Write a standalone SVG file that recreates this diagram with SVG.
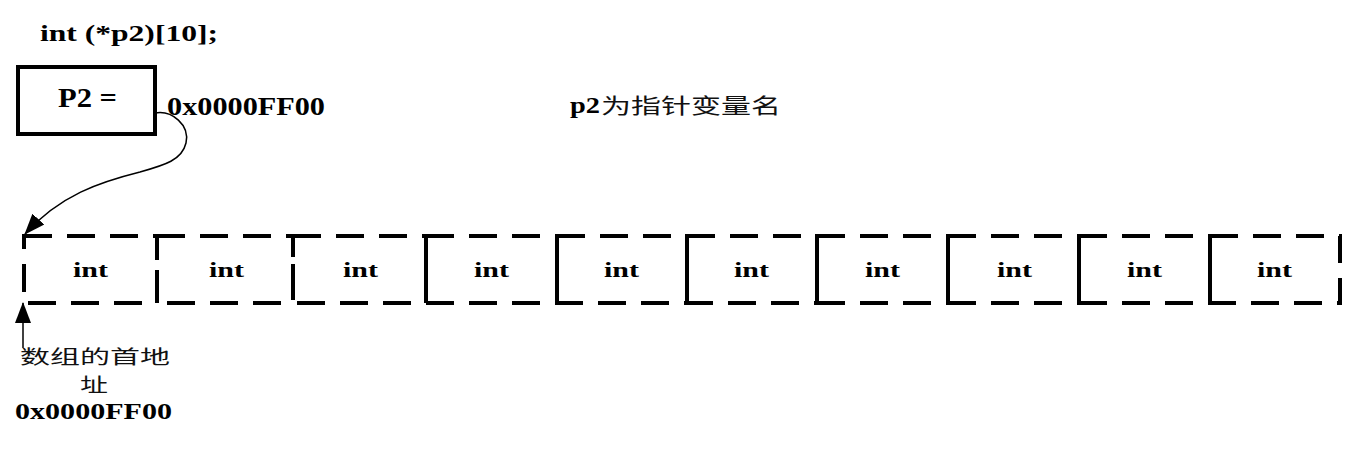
<svg xmlns="http://www.w3.org/2000/svg" width="1356" height="470" viewBox="0 0 1356 470">
<style>
.t{font-family:"Liberation Serif","Times New Roman",serif;font-weight:bold;fill:#000}
.cn{font-family:"Noto Sans CJK SC","Noto Sans",sans-serif;fill:#111}
.cell{fill:none;stroke:#000;stroke-width:4;stroke-dasharray:28 15}
.lbl{font-family:"Liberation Serif",serif;font-weight:bold;font-size:22px}
</style>
<defs>
<marker id="ah" markerWidth="22" markerHeight="18" refX="20" refY="8" orient="auto" markerUnits="userSpaceOnUse" viewBox="0 0 22 16">
<path d="M0,0 L21,8 L0,16 z" fill="#000"/>
</marker>
</defs>
<text class="t" x="40" y="41" font-size="24" textLength="178" lengthAdjust="spacingAndGlyphs">int  (*p2)[10];</text>
<g id="p2box">
<rect x="18" y="67" width="137" height="67" fill="#fff" stroke="#000" stroke-width="4"/>
<text class="t" x="58" y="107" font-size="27" textLength="59" lengthAdjust="spacingAndGlyphs">P2 =</text>
</g>
<text class="t" x="167" y="115" font-size="25" textLength="158" lengthAdjust="spacingAndGlyphs">0x0000FF00</text>
<g id="note">
<text class="t" x="570" y="113" font-size="24" textLength="30" lengthAdjust="spacingAndGlyphs">p2</text>
<text class="cn" x="601" y="113" font-size="21" textLength="180" lengthAdjust="spacingAndGlyphs">为指针变量名</text>
</g>
<g id="array">
<g id="c0"><rect class="cell" x="24" y="236" width="133" height="67"/><text class="lbl" x="73" y="277" textLength="35" lengthAdjust="spacingAndGlyphs">int</text></g>
<g id="c1"><rect class="cell" x="157" y="236" width="136" height="67"/><text class="lbl" x="209" y="277" textLength="35" lengthAdjust="spacingAndGlyphs">int</text></g>
<g id="c2"><rect class="cell" x="293" y="236" width="133" height="67"/><text class="lbl" x="343" y="277" textLength="35" lengthAdjust="spacingAndGlyphs">int</text></g>
<g id="c3"><rect class="cell" x="426" y="236" width="131" height="67"/><text class="lbl" x="474" y="277" textLength="35" lengthAdjust="spacingAndGlyphs">int</text></g>
<g id="c4"><rect class="cell" x="557" y="236" width="130" height="67"/><text class="lbl" x="604" y="277" textLength="35" lengthAdjust="spacingAndGlyphs">int</text></g>
<g id="c5"><rect class="cell" x="687" y="236" width="130" height="67"/><text class="lbl" x="734" y="277" textLength="35" lengthAdjust="spacingAndGlyphs">int</text></g>
<g id="c6"><rect class="cell" x="817" y="236" width="131" height="67"/><text class="lbl" x="865" y="277" textLength="35" lengthAdjust="spacingAndGlyphs">int</text></g>
<g id="c7"><rect class="cell" x="948" y="236" width="131" height="67"/><text class="lbl" x="997" y="277" textLength="35" lengthAdjust="spacingAndGlyphs">int</text></g>
<g id="c8"><rect class="cell" x="1079" y="236" width="131" height="67"/><text class="lbl" x="1127" y="277" textLength="35" lengthAdjust="spacingAndGlyphs">int</text></g>
<g id="c9"><rect class="cell" x="1210" y="236" width="130" height="67"/><text class="lbl" x="1257" y="277" textLength="35" lengthAdjust="spacingAndGlyphs">int</text></g>
</g>
<g id="connectors" fill="none" stroke="#000" stroke-width="1.5">
<path d="M155,113 C172,110 190,125 186,143 C182,160 165,165 140,172 C100,182 60,195 25,234" marker-end="url(#ah)"/>
<path d="M23,348 L23,303" marker-end="url(#ah)"/>
</g>
<g id="addr">
<text class="cn" x="20" y="364" font-size="19" textLength="150" lengthAdjust="spacingAndGlyphs">数组的首地</text>
<text class="cn" x="80" y="392" font-size="19" textLength="28" lengthAdjust="spacingAndGlyphs">址</text>
<text class="t" x="15" y="419" font-size="23" textLength="157" lengthAdjust="spacingAndGlyphs">0x0000FF00</text>
</g>
</svg>
